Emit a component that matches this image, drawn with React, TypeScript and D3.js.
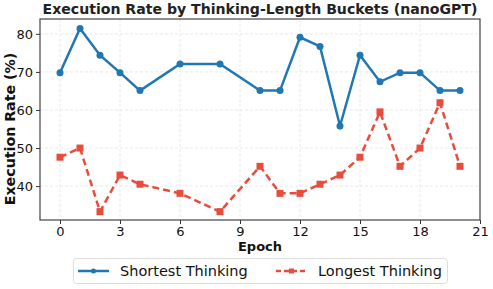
import React, { useRef, useEffect } from "react";
import * as d3 from "d3";

const epochs = [0, 1, 2, 3, 4, 6, 8, 10, 11, 12, 13, 14, 15, 16, 17, 18, 19, 20];
const shortestRate = [69.8, 81.4, 74.4, 69.8, 65.1, 72.1, 72.1, 65.1, 65.1, 79.1, 76.7, 55.8, 74.4, 67.4, 69.8, 69.8, 65.1, 65.1];
const longestRate = [47.6, 50.0, 33.3, 42.9, 40.5, 38.1, 33.3, 45.2, 38.1, 38.1, 40.5, 42.9, 47.6, 59.5, 45.2, 50.0, 61.9, 45.2];
const xTicks = [0, 3, 6, 9, 12, 15, 18, 21];
const yTicks = [40, 50, 60, 70, 80];
const seriesNames = ["Shortest Thinking", "Longest Thinking"];

function App() {
    const svgRef = useRef(null);

    useEffect(() => {
        const width = 493;
        const height = 289;
        const margin = { top: 19, right: 13, bottom: 69, left: 40 };
        const font = "DejaVu Sans, sans-serif";

        const svg = d3.select(svgRef.current);
        svg.selectAll("*").remove();
        svg.attr("width", width).attr("height", height).style("font-family", font);

        const x = d3.scaleLinear().domain([-1, 21]).range([margin.left, width - margin.right]);
        const y = d3.scaleLinear().domain([31.1, 83.9]).range([height - margin.bottom, margin.top]);

        // grid
        svg.append("g")
            .selectAll("line")
            .data(xTicks)
            .join("line")
            .attr("x1", (d) => x(d)).attr("x2", (d) => x(d))
            .attr("y1", margin.top).attr("y2", height - margin.bottom)
            .attr("stroke", "#e3e3e3").attr("stroke-dasharray", "3,2").attr("stroke-width", 0.8);
        svg.append("g")
            .selectAll("line")
            .data(yTicks)
            .join("line")
            .attr("x1", margin.left).attr("x2", width - margin.right)
            .attr("y1", (d) => y(d)).attr("y2", (d) => y(d))
            .attr("stroke", "#e3e3e3").attr("stroke-dasharray", "3,2").attr("stroke-width", 0.8);

        // axes
        const xAxis = svg.append("g")
            .attr("transform", `translate(0,${height - margin.bottom})`)
            .call(d3.axisBottom(x).tickValues(xTicks).tickSize(4).tickPadding(3));
        const yAxis = svg.append("g")
            .attr("transform", `translate(${margin.left},0)`)
            .call(d3.axisLeft(y).tickValues(yTicks).tickSize(4).tickPadding(3));
        [xAxis, yAxis].forEach((g) => {
            g.select(".domain").remove();
            g.selectAll("line").attr("stroke", "#333");
            g.selectAll("text").attr("fill", "#111").style("font-size", "13px").style("font-family", font);
        });

        // frame
        svg.append("rect")
            .attr("x", margin.left).attr("y", margin.top)
            .attr("width", width - margin.left - margin.right)
            .attr("height", height - margin.top - margin.bottom)
            .attr("fill", "none").attr("stroke", "#444").attr("stroke-width", 1.2);

        const series = [
            { name: seriesNames[0], values: shortestRate, color: "#1f77b4", dash: null, marker: "circle" },
            { name: seriesNames[1], values: longestRate, color: "#e74c3c", dash: "7,4", marker: "square" },
        ];

        const line = d3.line<number>().x((_, i) => x(epochs[i])).y((d) => y(d));

        series.forEach((s) => {
            svg.append("path")
                .datum(s.values)
                .attr("d", line)
                .attr("fill", "none")
                .attr("stroke", s.color)
                .attr("stroke-width", 2.5)
                .attr("stroke-dasharray", s.dash);
            if (s.marker === "circle") {
                svg.append("g").selectAll("circle")
                    .data(s.values).join("circle")
                    .attr("cx", (_, i) => x(epochs[i])).attr("cy", (d) => y(d))
                    .attr("r", 3.5).attr("fill", s.color);
            } else {
                svg.append("g").selectAll("rect")
                    .data(s.values).join("rect")
                    .attr("x", (_, i) => x(epochs[i]) - 3.5).attr("y", (d) => y(d) - 3.5)
                    .attr("width", 7).attr("height", 7).attr("fill", s.color);
            }
        });

        // title & labels
        svg.append("text")
            .attr("x", 260).attr("y", 14)
            .attr("text-anchor", "middle")
            .style("font-size", "14.1px").style("font-weight", "bold").attr("fill", "#222")
            .text("Execution Rate by Thinking-Length Buckets (nanoGPT)");
        svg.append("text")
            .attr("x", 260).attr("y", 251)
            .attr("text-anchor", "middle")
            .style("font-size", "13px").style("font-weight", "bold").attr("fill", "#111")
            .text("Epoch");
        svg.append("text")
            .attr("transform", `translate(15,129) rotate(-90)`)
            .attr("text-anchor", "middle")
            .style("font-size", "14.2px").style("font-weight", "bold").attr("fill", "#111")
            .text("Execution Rate (%)");

        // legend
        const legend = svg.append("g");
        legend.append("rect")
            .attr("x", 73.5).attr("y", 258.5).attr("width", 374).attr("height", 25).attr("rx", 3)
            .attr("fill", "white").attr("stroke", "#ddd");
        const legendX = [78, 276];
        series.forEach((s, i) => {
            const lx = legendX[i];
            legend.append("line")
                .attr("x1", lx).attr("x2", lx + 31).attr("y1", 271).attr("y2", 271)
                .attr("stroke", s.color).attr("stroke-width", 2.5).attr("stroke-dasharray", s.dash ? "5,3" : null);
            if (s.marker === "circle") {
                legend.append("circle").attr("cx", lx + 15.5).attr("cy", 271).attr("r", 2.5).attr("fill", s.color);
            } else {
                legend.append("rect").attr("x", lx + 13).attr("y", 268.5).attr("width", 5).attr("height", 5).attr("fill", s.color);
            }
            legend.append("text")
                .attr("x", lx + 42).attr("y", 276)
                .style("font-size", "14.5px").attr("fill", "#111")
                .text(s.name);
        });
    }, []);

    return <svg ref={svgRef} style={{ position: "absolute", left: 0, top: 0 }}></svg>;
}

export default App;
